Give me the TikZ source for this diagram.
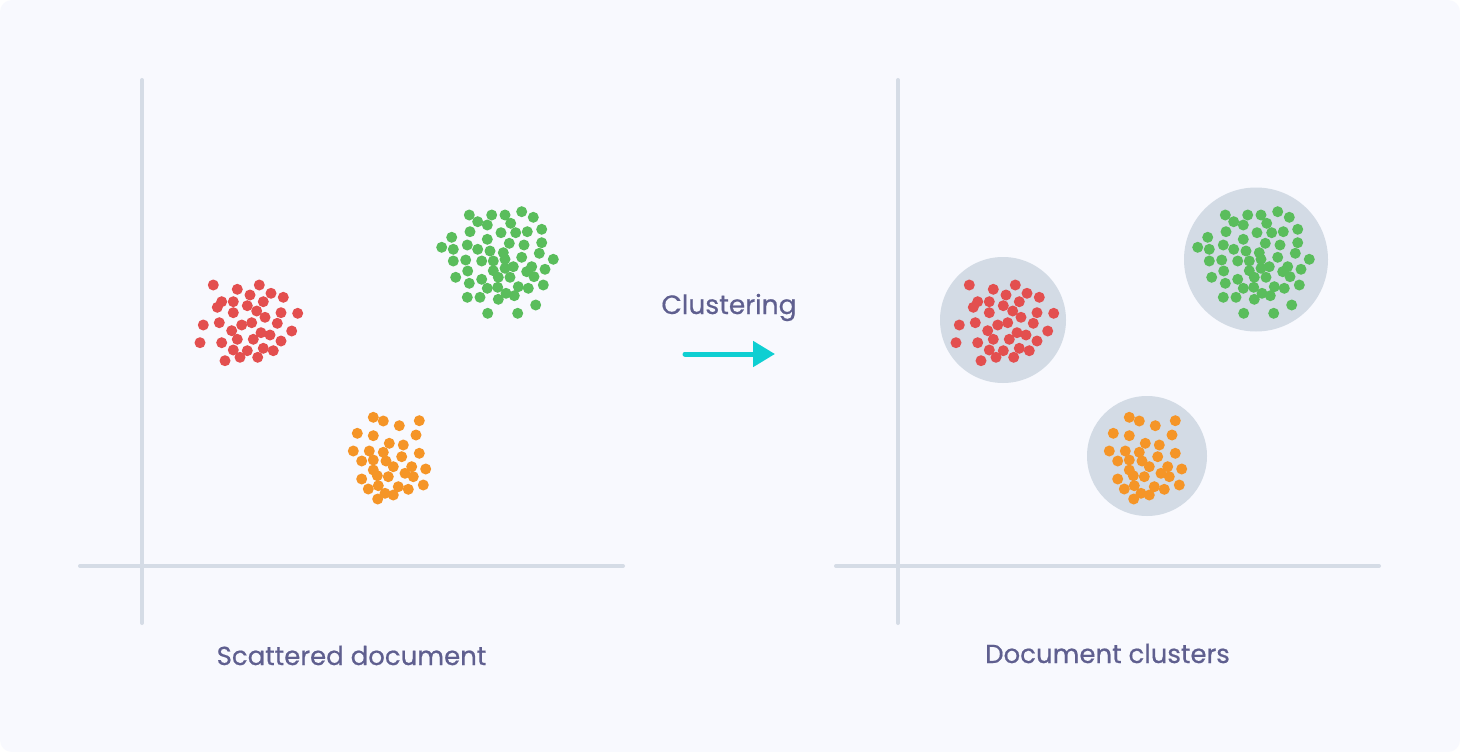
\documentclass[tikz,border=0pt]{standalone}
\usepackage{fontspec}
\setmainfont{Poppins}[FakeBold=0.6]
\usetikzlibrary{arrows.meta}

\definecolor{pagebg}{HTML}{F8F9FE}
\definecolor{axisgrey}{HTML}{D5DCE6}
\definecolor{hullgrey}{HTML}{D3DBE5}
\definecolor{dotred}{HTML}{E34F4F}
\definecolor{dotgreen}{HTML}{5ABD5C}
\definecolor{dotorange}{HTML}{F59527}
\definecolor{labelink}{HTML}{5F5F8F}
\definecolor{arrowcyan}{HTML}{0ECFD2}

% dot positions of the three groups (px, y downwards)
\def\reddots{213.3/285, 237.3/289.3, 259.3/285, 250/295, 271/293.3, 283.3/297.3,
  221.7/301.7, 217.3/307.3, 233.3/301.7, 247.3/305.7, 263.3/301.7, 233.3/312.7,
  256.7/311, 265/317.3, 281/312.7, 297.7/313.3, 203.3/325, 219.3/322.7,
  241.7/325, 251.7/322.7, 277.3/323.3, 231.7/330.7, 291.7/331, 200/342.7,
  221.7/342.7, 237.3/339.3, 253.3/339.3, 261/332.7, 270/335, 281/341,
  233.3/350, 247.3/350.7, 263.3/348.3, 273.3/350.7, 240/357.3, 257.7/357.3,
  225/360.7}
\def\greendots{469.3/215, 491.7/215, 505/215, 521.7/211.7, 533.3/217.3,
  477.7/221.7, 487.3/225, 510.7/223.3, 451.7/237.3, 470/231.7, 501/232.7,
  515.7/232.7, 527.3/231.7, 541.7/229.3, 441.7/247.3, 453.3/249.3, 467.3/245,
  487.3/239.3, 509.3/243.3, 524/245, 541.7/242.7, 477.7/249.3, 490/251,
  503.3/252.7, 539.3/253.3, 453.3/261, 465.7/260, 481.7/261, 493.3/261,
  505/259.3, 521.7/257.3, 553.3/259.3, 467.7/271, 493.3/270.7, 505/268.3,
  513.3/266.7, 526.7/271.7, 531.7/266.7, 545/269.3, 455.7/277.3, 481.7/279.3,
  498.3/277.3, 510/277.3, 534/276.7, 469.3/283.3, 487.3/288.3, 497.7/287.3,
  518.3/286.7, 528.3/288.3, 543.3/285, 467.3/297.3, 480/297.3, 498.3/299.3,
  506/293.3, 514.3/295.7, 535.7/305, 487.7/313.3, 517.7/313.3}
\def\orangedots{373.3/417.3, 383.3/421, 399.3/425.7, 419.3/420.7, 357.3/433.3,
  373.3/435.7, 416/435, 389.3/443.3, 403.3/445, 353.3/451, 369.3/451,
  383.3/452.3, 419.3/453.3, 361.7/461, 373.3/460, 386/461, 401.7/456.7,
  393.3/466.7, 411.7/466.7, 425.7/469, 373.3/470, 405/473.3, 361.7/479,
  377.3/475.7, 388.3/476.7, 413.3/476.7, 368.3/489, 378.3/485.7, 398.3/486.7,
  408.3/489.3, 423.3/485, 385/493.3, 393.3/495, 377.7/499}

\tikzset{
  axisline/.style={draw=axisgrey, line width=4pt, line cap=round},
  hull/.style={fill=hullgrey},
  dot/.style={fill=#1},
  caption/.style={text=labelink, font=\fontsize{26}{30}\selectfont, anchor=base},
  flowarrow/.style={draw=arrowcyan, line width=5pt, line cap=round,
    -{Triangle[length=22pt,width=25pt]}}
}

\newcommand{\scatterpanel}{%
  \draw[axisline] (142,80) -- (142,623);
  \draw[axisline] (80,566) -- (623,566);
  \foreach \px/\py in \reddots {\fill[dot=dotred] (\px,\py) circle[radius=5.5pt];}
  \foreach \px/\py in \greendots {\fill[dot=dotgreen] (\px,\py) circle[radius=5.5pt];}
  \foreach \px/\py in \orangedots {\fill[dot=dotorange] (\px,\py) circle[radius=5.5pt];}
}

\begin{document}
\begin{tikzpicture}[x=1pt,y=-1pt]
  \useasboundingbox (0,0) rectangle (1460,752);
  \fill[white] (0,0) rectangle (1460,752);
  \fill[pagebg, rounded corners=12pt] (0,0) rectangle (1460,752);

  % left panel: raw scatter
  \scatterpanel
  \node[caption] (leftlabel) at (351.5,665) {Scattered document};

  % transition arrow
  \node[caption, font=\fontsize{26.5}{31}\selectfont] (steplabel) at (729,314) {Clustering};
  \coordinate (arrowtail) at (685,354);
  \coordinate (arrowhead) at (775,354);
  \draw[flowarrow] (arrowtail) -- (arrowhead);

  % right panel: same scatter with cluster hulls
  \begin{scope}[xshift=756pt]
    \fill[hull] (247,320) circle[radius=63pt];
    \fill[hull] (500,259.5) circle[radius=72pt];
    \fill[hull] (391,456) circle[radius=60pt];
    \scatterpanel
  \end{scope}
  \node[caption] (rightlabel) at (1107.5,663) {Document clusters};
\end{tikzpicture}
\end{document}
